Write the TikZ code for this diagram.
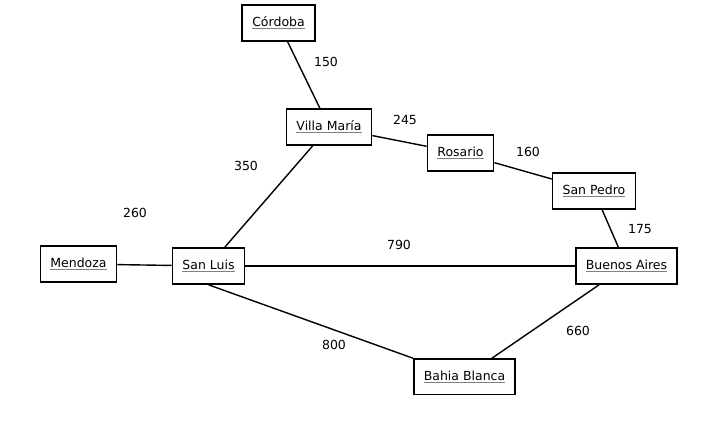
\documentclass[tikz,border=0pt]{standalone}
\usepackage{fontspec}
\setmainfont{DejaVu Sans}
\newcommand\ulname[1]{\leavevmode\setbox0\hbox{#1}\rlap{\color{gray}\rule[-2.8pt]{\wd0}{1.6pt}}\box0}
\begin{document}
\begin{tikzpicture}[x=1pt,y=-1pt,
  city/.style={draw=black,line width=1.6pt,fill=white,minimum height=36pt,inner xsep=10pt,inner ysep=0pt,font=\fontsize{12.5}{14}\selectfont},
  road/.style={draw=black,line width=1.4pt},
  dist/.style={font=\fontsize{12.5}{14}\selectfont,inner sep=0pt}]
\useasboundingbox (0,0) rectangle (701,424);
\begin{scope}
\clip (0,0) rectangle (701,394);
\node[city] (cor) at (278.5,23) {\ulname{Córdoba}};
\node[city] (vm) at (329,127) {\ulname{Villa María}};
\node[city] (ros) at (460.5,153) {\ulname{Rosario}};
\node[city] (sp) at (594,191) {\ulname{San Pedro}};
\node[city] (ba) at (626.5,266) {\ulname{Buenos Aires}};
\node[city] (sl) at (208.5,266) {\ulname{San Luis}};
\node[city] (men) at (78.5,264) {\ulname{Mendoza}};
\node[city] (bb) at (464.5,377) {\ulname{Bahia Blanca}};
\draw[road] (cor) -- (vm);
\draw[road] (vm) -- (ros);
\draw[road] (ros) -- (sp);
\draw[road] (sp) -- (ba);
\draw[road] (sl) -- (vm);
\draw[road] (men) -- (sl);
\draw[road] (sl) -- (ba);
\draw[road] (sl.south) -- (bb.north west);
\draw[road] (ba) -- (bb);
\node[dist] (d1) at (326,62) {150};
\node[dist] (d2) at (405,120) {245};
\node[dist] (d3) at (528,152) {160};
\node[dist] (d4) at (640,229) {175};
\node[dist] (d5) at (246,166) {350};
\node[dist] (d6) at (135,213) {260};
\node[dist] (d7) at (399,245) {790};
\node[dist] (d8) at (334,345) {800};
\node[dist] (d9) at (578,331) {660};
\end{scope}
\end{tikzpicture}
\end{document}
